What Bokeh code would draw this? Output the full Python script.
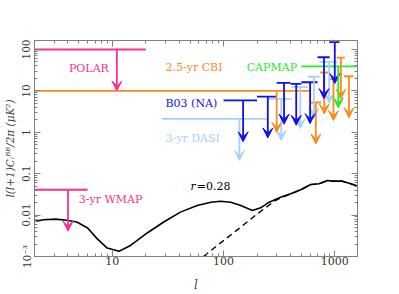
import numpy as np
from bokeh.plotting import figure
from bokeh.models import (Range1d, LogAxis, FixedTicker, Arrow, VeeHead, Label,
                          ColumnDataSource)
from bokeh.embed import file_html
from bokeh.resources import INLINE

# ---------------- data ----------------
# theory B-mode spectrum, r = 0.28 (total)
ell_total = [2.0, 2.4, 3.1, 3.9, 4.8, 6.0, 7.3, 9.0, 11.5, 14.6, 20.6, 29, 41, 58, 77,
             94, 116, 143, 182, 216, 257, 326, 401, 493, 607, 722, 857, 986, 1169, 1344, 1600]
clbb_total = [0.0070, 0.0077, 0.0080, 0.0075, 0.0068, 0.0049, 0.0027, 0.0016, 0.00134,
              0.00185, 0.0037, 0.0068, 0.0118, 0.0171, 0.0205, 0.0217, 0.0205, 0.0171,
              0.0129, 0.0150, 0.0205, 0.0270, 0.0327, 0.0408, 0.0548, 0.0570, 0.0686,
              0.0660, 0.0660, 0.0590, 0.0505]
# lensing-only B-modes (dashed)
ell_lens = [66, 88, 133, 201, 292, 326, 401, 493, 607, 722, 857, 986, 1169, 1344, 1600]
clbb_lens = [0.0010, 0.00185, 0.0044, 0.0107, 0.0225, 0.0262, 0.0322, 0.0404, 0.0545,
             0.0567, 0.0683, 0.0658, 0.0658, 0.0588, 0.0503]

# upper limits: bin edges (l) and 95% upper limit (uK^2)
polar_lo, polar_hi, polar_ul = [2], [20], [100]
wmap_lo, wmap_hi, wmap_ul = [2], [6], [0.041]
cbi_lo = [1, 600, 740, 900, 1040, 1210]
cbi_hi = [600, 750, 870, 1045, 1230, 1470]
cbi_ul = [10, 5.25, 27.8, 19.2, 64, 22.6]
b03_lo = [100, 200, 300, 400, 500, 700, 900]
b03_hi = [200, 300, 400, 500, 700, 900, 1100]
b03_ul = [5.9, 7.3, 15.7, 14.8, 16.2, 65, 150]
dasi_lo = [28, 250, 410, 570, 730]
dasi_hi = [250, 410, 570, 730, 1050]
dasi_ul = [2.1, 6.4, 12.3, 22, 50]
capmap_lo, capmap_hi, capmap_ul = [500], [1650], [39]

x_ticks = [10, 100, 1000]
x_tick_labels = ["10", "100", "1000"]
y_ticks = [0.001, 0.01, 0.1, 1, 10, 100]
y_tick_labels = ["10\u207b\u00b3", "0.01", "0.1", "1", "10", "100"]

# ---------------- styling ----------------
PINK = "#ff2f92"
ORANGE = "#ff8a1c"
GREEN = "#22ee22"
BLUE = "#1010ee"
LBLUE = "#a8d0ff"
AXC = "#808080"
FONT = "DejaVu Serif"

p = figure(x_axis_type="log", y_axis_type="log",
           x_range=Range1d(2, 1600), y_range=Range1d(1e-3, 165),
           frame_width=323, frame_height=216,
           min_border_left=29, min_border_right=24, min_border_top=40, min_border_bottom=38,
           output_backend="svg", toolbar_location=None)
p.xgrid.visible = False
p.ygrid.visible = False
p.outline_line_color = AXC
p.background_fill_color = "white"

minor_x = [m * 10.0 ** e for e in range(0, 4) for m in range(2, 10)]
minor_y = [m * 10.0 ** e for e in range(-3, 3) for m in range(2, 10)]


def style_axis(ax, ticks, minor, labels, show_labels):
    ax.ticker = FixedTicker(ticks=ticks, minor_ticks=minor)
    ax.axis_line_color = AXC
    ax.major_tick_line_color = AXC
    ax.minor_tick_line_color = AXC
    ax.major_tick_in = 6
    ax.major_tick_out = 0
    ax.minor_tick_in = 3
    ax.minor_tick_out = 0
    ax.major_label_text_font = FONT
    if show_labels:
        ax.major_label_overrides = {t: s for t, s in zip(ticks, labels)}
        ax.major_label_text_font_size = "11px"
        ax.major_label_text_color = "#333333"
    else:
        ax.major_label_overrides = {t: "" for t in ticks}
        ax.major_label_text_font_size = "1px"
        ax.major_label_text_alpha = 0
        ax.major_label_standoff = 0


xb = p.xaxis[0]
yl = p.yaxis[0]
style_axis(xb, x_ticks, minor_x, x_tick_labels, True)
style_axis(yl, y_ticks, minor_y, y_tick_labels, True)
xb.major_label_standoff = 0
xb.axis_label = "l"
xb.axis_label_text_font = FONT
xb.axis_label_text_font_style = "italic"
xb.axis_label_text_font_size = "12px"
xb.axis_label_standoff = 10
yl.major_label_orientation = "vertical"
yl.major_label_standoff = 2
yl.major_label_text_font_size = "10.5px"
yl.axis_label = "l(l+1)C\u2097\u1d2e\u1d2e/2\u03c0 (\u03bcK\u00b2)"
yl.axis_label_text_font = FONT
yl.axis_label_text_font_style = "italic"
yl.axis_label_text_font_size = "10.5px"
yl.axis_label_standoff = 2

xt = LogAxis()
style_axis(xt, x_ticks, minor_x, x_tick_labels, False)
p.add_layout(xt, "above")
yr = LogAxis()
style_axis(yr, y_ticks, minor_y, y_tick_labels, False)
p.add_layout(yr, "right")

# ---------------- theory ----------------
p.line(ell_total, clbb_total, line_color="black", line_width=1.6)
p.line(ell_lens, clbb_lens, line_color="black", line_width=1.4, line_dash="6 4")


def add_limits(lo, hi, ul, color):
    lo = np.asarray(lo, float)
    hi = np.asarray(hi, float)
    ul = np.asarray(ul, float)
    src = ColumnDataSource(dict(lo=lo, hi=hi, mid=(lo + hi) / 2, ul=ul, tip=ul / 10))
    p.segment(x0="lo", y0="ul", x1="hi", y1="ul", source=src,
              line_color=color, line_width=1.8)
    p.add_layout(Arrow(end=VeeHead(size=10, fill_color=color, line_color=color, line_width=1),
                       x_start="mid", y_start="ul", x_end="mid", y_end="tip", source=src,
                       line_color=color, line_width=1.8))


add_limits(dasi_lo, dasi_hi, dasi_ul, LBLUE)
add_limits(cbi_lo, cbi_hi, cbi_ul, ORANGE)
add_limits(b03_lo, b03_hi, b03_ul, BLUE)
add_limits(capmap_lo, capmap_hi, capmap_ul, GREEN)
add_limits(polar_lo, polar_hi, polar_ul, PINK)
add_limits(wmap_lo, wmap_hi, wmap_ul, PINK)

# ---------------- labels ----------------
def lab(x, y, text, color, style="normal"):
    p.add_layout(Label(x=x, y=y, text=text, text_color=color, text_font=FONT,
                       text_font_size="11px", text_font_style=style,
                       text_baseline="middle", text_align="left"))


lab(4.08, 35.7, "POLAR", PINK)
lab(30.1, 36.7, "2.5-yr CBI", ORANGE)
lab(161.5, 37.4, "CAPMAP", GREEN)
lab(30.1, 4.87, "B03 (NA)", BLUE)
lab(30.1, 0.70, "3-yr DASI", LBLUE)
lab(5.0, 0.0234, "3-yr WMAP", PINK)
lab(50.6, 0.0478, "r", "black", "italic")
lab(57.5, 0.0478, "=0.28", "black")

open("out.html", "w").write(file_html(p, INLINE))
